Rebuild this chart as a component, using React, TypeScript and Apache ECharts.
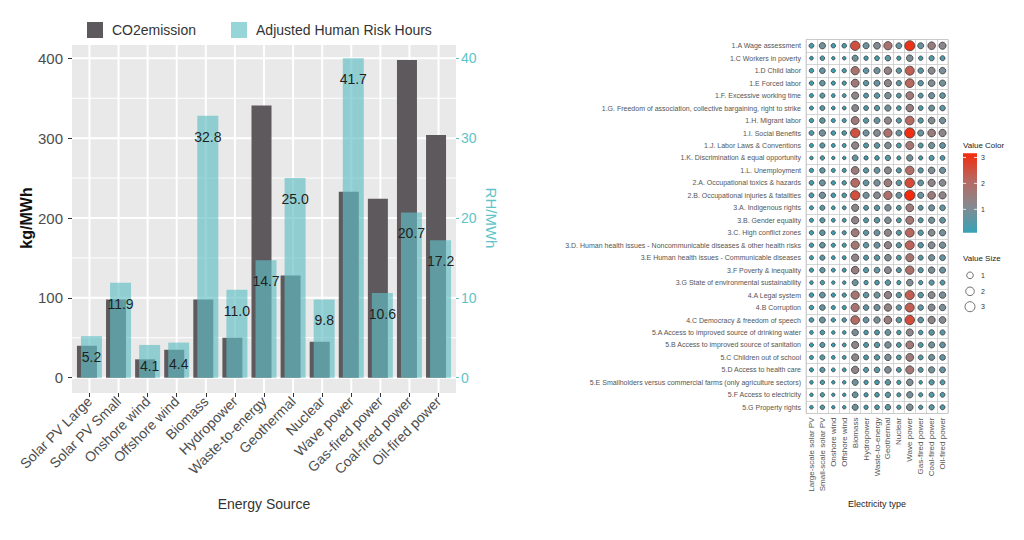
import React, { useEffect, useRef } from "react";
import * as echarts from "echarts";

// ---------- Left chart data ----------
const energySources = [
  "Solar PV Large", "Solar PV Small", "Onshore wind", "Offshore wind", "Biomass",
  "Hydropower", "Waste-to-energy", "Geothermal", "Nuclear", "Wave power",
  "Gas-fired power", "Coal-fired power", "Oil-fired power",
];
const co2Emission = [40, 98, 23, 35, 98, 50, 341, 128, 45, 233, 224, 398, 304];
const riskHours = [5.2, 11.9, 4.1, 4.4, 32.8, 11.0, 14.7, 25.0, 9.8, 41.7, 10.6, 20.7, 17.2];
const co2Axis = { min: 0, max: 400, interval: 100 };
const rhAxis = { min: 0, max: 40, interval: 10 };
const co2GridValues = [0, 50, 100, 150, 200, 250, 300, 350, 400];

// ---------- Right chart data ----------
const electricityTypes = [
  "Large-scale solar PV", "Small-scale solar PV", "Onshore wind", "Offshore wind", "Biomass",
  "Hydropower", "Waste-to-energy", "Geothermal", "Nuclear", "Wave power",
  "Gas-fired power", "Coal-fired power", "Oil-fired power",
];
const indicators = [
  "1.A Wage assessment",
  "1.C Workers in poverty",
  "1.D Child labor",
  "1.E Forced labor",
  "1.F. Excessive working time",
  "1.G. Freedom of association, collective bargaining, right to strike",
  "1.H. Migrant labor",
  "1.I. Social Benefits",
  "1.J. Labor Laws & Conventions",
  "1.K. Discrimination & equal opportunity",
  "1.L. Unemployment",
  "2.A. Occupational toxics & hazards",
  "2.B. Occupational injuries & fatalities",
  "3.A. Indigenous rights",
  "3.B. Gender equality",
  "3.C. High conflict zones",
  "3.D. Human health issues - Noncommunicable diseases & other health risks",
  "3.E Human health issues - Communicable diseases",
  "3.F Poverty & inequality",
  "3.G State of environmental sustainability",
  "4.A Legal system",
  "4.B Corruption",
  "4.C Democracy & freedom of speech",
  "5.A Access to improved source of drinking water",
  "5.B Access to improved source of sanitation",
  "5.C Children out of school",
  "5.D Access to health care",
  "5.E Smallholders versus commercial farms (only agriculture sectors)",
  "5.F Access to electricity",
  "5.G Property rights",
];
// one row per indicator, columns in electricityTypes order
const matrixValues: number[][] = [
  [0.38, 0.87, 0.29, 0.33, 2.55, 0.80, 1.08, 1.82, 0.71, 3.02, 0.77, 1.50, 1.25],
  [0.13, 0.30, 0.10, 0.11, 0.80, 0.27, 0.36, 0.61, 0.24, 1.00, 0.26, 0.50, 0.42],
  [0.29, 0.67, 0.23, 0.25, 1.85, 0.62, 0.83, 1.40, 0.55, 2.30, 0.60, 1.15, 0.96],
  [0.27, 0.61, 0.21, 0.23, 1.66, 0.56, 0.75, 1.27, 0.50, 2.12, 0.54, 1.05, 0.87],
  [0.20, 0.46, 0.16, 0.17, 1.26, 0.42, 0.57, 0.96, 0.38, 1.60, 0.41, 0.80, 0.66],
  [0.18, 0.42, 0.14, 0.15, 1.14, 0.38, 0.51, 0.87, 0.34, 1.45, 0.37, 0.72, 0.60],
  [0.26, 0.60, 0.21, 0.22, 1.65, 0.55, 0.74, 1.26, 0.49, 2.08, 0.53, 1.04, 0.86],
  [0.39, 0.89, 0.31, 0.33, 2.50, 0.82, 1.10, 1.87, 0.73, 3.10, 0.79, 1.55, 1.28],
  [0.21, 0.49, 0.17, 0.18, 1.34, 0.45, 0.60, 1.02, 0.40, 1.70, 0.43, 0.84, 0.70],
  [0.11, 0.26, 0.09, 0.10, 0.71, 0.24, 0.32, 0.54, 0.21, 0.90, 0.23, 0.45, 0.37],
  [0.25, 0.57, 0.20, 0.21, 1.58, 0.53, 0.71, 1.20, 0.47, 2.00, 0.51, 0.99, 0.83],
  [0.33, 0.75, 0.26, 0.28, 2.08, 0.69, 0.92, 1.57, 0.61, 2.62, 0.67, 1.30, 1.08],
  [0.40, 0.90, 0.31, 0.34, 2.55, 0.84, 1.12, 1.90, 0.75, 3.16, 0.80, 1.57, 1.31],
  [0.20, 0.45, 0.16, 0.17, 1.25, 0.42, 0.56, 0.95, 0.37, 1.58, 0.40, 0.78, 0.65],
  [0.21, 0.48, 0.17, 0.18, 1.33, 0.45, 0.60, 1.01, 0.40, 1.69, 0.43, 0.84, 0.70],
  [0.26, 0.60, 0.21, 0.22, 1.66, 0.55, 0.74, 1.27, 0.49, 2.11, 0.54, 1.05, 0.87],
  [0.28, 0.63, 0.22, 0.23, 1.73, 0.58, 0.78, 1.32, 0.52, 2.20, 0.56, 1.09, 0.91],
  [0.21, 0.48, 0.17, 0.18, 1.34, 0.45, 0.60, 1.02, 0.40, 1.71, 0.43, 0.85, 0.70],
  [0.24, 0.54, 0.19, 0.20, 1.50, 0.50, 0.67, 1.14, 0.45, 1.90, 0.48, 0.94, 0.78],
  [0.13, 0.28, 0.10, 0.11, 0.78, 0.26, 0.35, 0.59, 0.23, 0.99, 0.25, 0.49, 0.41],
  [0.29, 0.66, 0.23, 0.24, 1.81, 0.61, 0.81, 1.38, 0.54, 2.30, 0.58, 1.14, 0.95],
  [0.29, 0.65, 0.22, 0.24, 1.80, 0.60, 0.81, 1.37, 0.54, 2.28, 0.58, 1.13, 0.94],
  [0.33, 0.74, 0.25, 0.28, 2.05, 0.69, 0.92, 1.56, 0.61, 2.60, 0.66, 1.29, 1.07],
  [0.15, 0.34, 0.12, 0.13, 0.94, 0.32, 0.42, 0.72, 0.28, 1.20, 0.30, 0.60, 0.49],
  [0.20, 0.46, 0.16, 0.17, 1.26, 0.42, 0.56, 0.96, 0.38, 1.61, 0.41, 0.79, 0.66],
  [0.20, 0.45, 0.16, 0.17, 1.25, 0.42, 0.56, 0.95, 0.37, 1.59, 0.40, 0.79, 0.66],
  [0.21, 0.48, 0.17, 0.18, 1.34, 0.45, 0.60, 1.02, 0.40, 1.70, 0.43, 0.84, 0.70],
  [0.13, 0.29, 0.10, 0.11, 0.79, 0.26, 0.35, 0.60, 0.24, 1.00, 0.12, 0.50, 0.41],
  [0.11, 0.26, 0.09, 0.10, 0.70, 0.24, 0.32, 0.54, 0.21, 0.89, 0.23, 0.45, 0.37],
  [0.13, 0.29, 0.10, 0.11, 0.79, 0.26, 0.35, 0.60, 0.24, 1.01, 0.25, 0.50, 0.41],
];
const colorLegendTicks = [1, 2, 3];
const sizeLegendValues = [1, 2, 3];
const valueMin = 0.1;
const valueMax = 3.16;
const colorStops = ["#36a2b6", "#868a90", "#b86860", "#f42a0c"];

const FONT = "Liberation Sans, Arial, Helvetica, sans-serif";
const sizeFor = (v: number) => 2 + 8.2 * Math.sqrt(Math.max(v, 0) / valueMax);

export default function App() {
  const ref = useRef<HTMLDivElement>(null);

  useEffect(() => {
    if (!ref.current) return;
    const chart = echarts.init(ref.current, undefined, { renderer: "svg" });

    const scatterData: number[][] = [];
    matrixValues.forEach((row, r) => row.forEach((v, c) => scatterData.push([c, r, v])));

    const panel = { left: 72, top: 45, width: 384, height: 348 };

    const option: any = {
      animation: false,
      backgroundColor: "#ffffff",
      textStyle: { fontFamily: FONT },
      legend: {
        left: 82,
        top: 17,
        itemWidth: 16,
        itemHeight: 16,
        itemGap: 35,
        icon: "rect",
        textStyle: { fontSize: 14, color: "#333", padding: [0, 0, 0, 4] },
        data: ["CO2emission", "Adjusted Human Risk Hours"],
      },
      grid: [
        // 0: y axes
        { left: 72, top: 58.3, width: 384, height: 319.4 },
        // 1: bars
        { left: 74.9, top: 58.3, width: 378.2, height: 319.4 },
        // 2: category labels at bottom of panel
        { left: 74.9, top: 45, width: 378.2, height: 348 },
        // 3: matrix
        { left: 806, top: 39.5, width: 142, height: 374, show: true, borderColor: "#c4c4c4", borderWidth: 0.7 },
      ],
      xAxis: [
        { gridIndex: 0, type: "value", min: 0, max: 1, show: false },
        { gridIndex: 1, type: "category", data: energySources, show: false },
        {
          gridIndex: 2, type: "category", data: energySources, position: "bottom",
          axisLine: { show: false },
          axisTick: { show: true, alignWithLabel: true, length: 4, lineStyle: { color: "#333", width: 1 } },
          axisLabel: { rotate: 45, fontSize: 14, color: "#4d4d4d", margin: 6, interval: 0 },
          splitLine: { show: false },
          name: "Energy Source", nameLocation: "middle", nameGap: 104,
          nameTextStyle: { fontSize: 14, color: "#333" },
        },
        {
          gridIndex: 3, type: "category", data: electricityTypes, position: "bottom",
          axisLine: { show: false }, axisTick: { show: false },
          axisLabel: { rotate: 90, fontSize: 8, color: "#555", margin: 4, interval: 0 },
          splitLine: { show: true, interval: 0, lineStyle: { color: "#c4c4c4", width: 0.7 } },
          name: "Electricity type", nameLocation: "middle", nameGap: 86,
          nameTextStyle: { fontSize: 9, color: "#222" },
        },
      ],
      yAxis: [
        {
          gridIndex: 0, type: "value", position: "left", ...co2Axis,
          axisLine: { show: false },
          axisTick: { show: true, length: 4, lineStyle: { color: "#333" } },
          axisLabel: { fontSize: 15, color: "#4d4d4d", margin: 9 },
          splitLine: { show: false },
          name: "kg/MWh", nameLocation: "middle", nameRotate: 90, nameGap: 36,
          nameTextStyle: { fontSize: 16, fontWeight: "bold", color: "#111" },
        },
        {
          gridIndex: 0, type: "value", position: "right", ...rhAxis,
          axisLine: { show: false },
          axisTick: { show: true, length: 3, lineStyle: { color: "#5fc4c8" } },
          axisLabel: { fontSize: 14, color: "#5fc4c8", margin: 5 },
          splitLine: { show: false },
          name: "RH/MWh", nameLocation: "middle", nameRotate: -90, nameGap: 28,
          nameTextStyle: { fontSize: 15, color: "#5fc4c8" },
        },
        { gridIndex: 1, type: "value", ...co2Axis, show: false },
        { gridIndex: 1, type: "value", ...rhAxis, show: false },
        { gridIndex: 2, type: "value", min: 0, max: 1, show: false },
        {
          gridIndex: 3, type: "category", data: indicators, inverse: true,
          axisLine: { show: false }, axisTick: { show: false },
          axisLabel: { fontSize: 7, color: "#555", margin: 5, interval: 0 },
          splitLine: { show: true, interval: 0, lineStyle: { color: "#c4c4c4", width: 0.7 } },
        },
      ],
      visualMap: {
        show: false, type: "continuous", min: valueMin, max: valueMax,
        dimension: 2, seriesIndex: 2, inRange: { color: colorStops },
      },
      series: [
        {
          type: "bar", name: "CO2emission", xAxisIndex: 1, yAxisIndex: 2,
          data: co2Emission, barWidth: 20, barGap: "-80%",
          itemStyle: { color: "#5e595d" }, z: 2,
        },
        {
          type: "bar", name: "Adjusted Human Risk Hours", xAxisIndex: 1, yAxisIndex: 3,
          data: riskHours, barWidth: 21, barGap: "-80%",
          itemStyle: { color: "rgba(95,190,196,0.65)" }, z: 3,
          label: {
            show: true, position: "insideTop", distance: 14, fontSize: 14, color: "#1f1f1f",
            formatter: (p: any) => Number(p.value).toFixed(1),
          },
        },
        {
          type: "scatter", name: "matrix", xAxisIndex: 3, yAxisIndex: 5,
          data: scatterData,
          symbol: "circle",
          symbolSize: (val: number[]) => sizeFor(val[2]),
          itemStyle: { borderColor: "#3a3a3a", borderWidth: 0.8, opacity: 1 },
          z: 3,
        },
      ],
    };

    chart.setOption(option);

    // ---- graphics: panel background, gridlines (from the axes' scales), matrix legend ----
    const graphic: any[] = [
      {
        type: "rect", z: -100, silent: true,
        shape: { x: panel.left, y: panel.top, width: panel.width, height: panel.height },
        style: { fill: "#eae9e9" },
      },
    ];
    co2GridValues.forEach((v) => {
      const y = chart.convertToPixel({ yAxisIndex: 2 } as any, v) as number;
      graphic.push({
        type: "line", z: -90, silent: true,
        shape: { x1: panel.left, y1: y, x2: panel.left + panel.width, y2: y },
        style: { stroke: "#ffffff", lineWidth: v % 100 === 0 ? 2 : 1 },
      });
    });
    energySources.forEach((cat) => {
      const x = chart.convertToPixel({ xAxisIndex: 1 } as any, cat) as number;
      graphic.push({
        type: "line", z: -90, silent: true,
        shape: { x1: x, y1: panel.top, x2: x, y2: panel.top + panel.height },
        style: { stroke: "#ffffff", lineWidth: 2 },
      });
    });

    const cbX = 963, cbW = 14, cbTop = 153.3, cbBottom = 232.7;
    const cbY = (v: number) => cbBottom - ((v - valueMin) / (valueMax - valueMin)) * (cbBottom - cbTop);
    graphic.push(
      { type: "text", x: 963, y: 145, style: { text: "Value Color", fontSize: 8, fill: "#222", fontFamily: FONT, verticalAlign: "middle" } },
      {
        type: "rect",
        shape: { x: cbX, y: cbTop, width: cbW, height: cbBottom - cbTop },
        style: {
          fill: new echarts.graphic.LinearGradient(0, 1, 0, 0,
            colorStops.map((c, i) => ({ offset: i / (colorStops.length - 1), color: c }))),
        },
      },
      { type: "text", x: 963, y: 258, style: { text: "Value Size", fontSize: 8, fill: "#222", fontFamily: FONT, verticalAlign: "middle" } },
    );
    colorLegendTicks.forEach((v) => {
      const y = cbY(v);
      graphic.push({ type: "line", shape: { x1: cbX, y1: y, x2: cbX + 3, y2: y }, style: { stroke: "#fff", lineWidth: 0.8 } });
      graphic.push({ type: "line", shape: { x1: cbX + cbW - 3, y1: y, x2: cbX + cbW, y2: y }, style: { stroke: "#fff", lineWidth: 0.8 } });
      graphic.push({ type: "text", x: 981, y, style: { text: String(v), fontSize: 7, fill: "#333", fontFamily: FONT, verticalAlign: "middle" } });
    });
    const sizeRowsY = [275.3, 291.3, 306.7];
    sizeLegendValues.forEach((v, i) => {
      graphic.push({ type: "circle", shape: { cx: 970, cy: sizeRowsY[i], r: sizeFor(v) / 2 }, style: { fill: "none", stroke: "#333", lineWidth: 0.7 } });
      graphic.push({ type: "text", x: 981, y: sizeRowsY[i], style: { text: String(v), fontSize: 7, fill: "#333", fontFamily: FONT, verticalAlign: "middle" } });
    });

    chart.setOption({ graphic });
    return () => chart.dispose();
  }, []);

  return (
    <div
      ref={ref}
      style={{ position: "absolute", left: 0, top: 0, width: 1024, height: 540, background: "#fff" }}
    />
  );
}
